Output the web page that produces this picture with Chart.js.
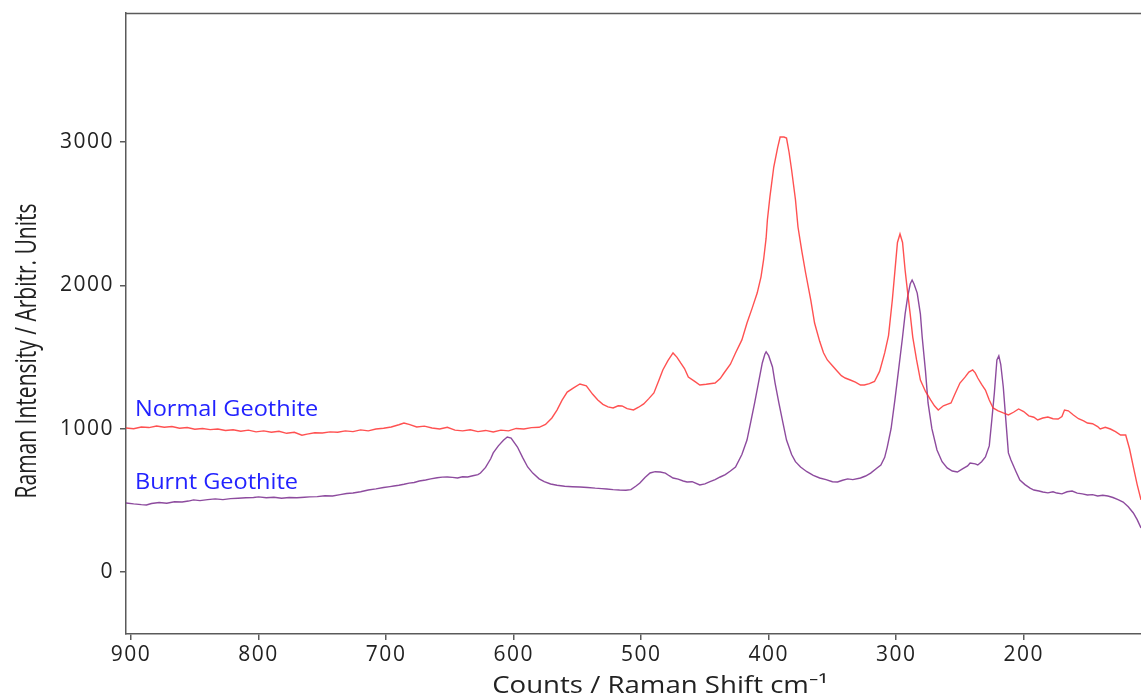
<!DOCTYPE html>
<html>
<head>
<meta charset="utf-8">
<title>Raman spectra – Geothite</title>
<script src="https://cdn.jsdelivr.net/npm/chart.js@4/dist/chart.umd.min.js"></script>
<style>
  html, body { margin: 0; padding: 0; background: #fff; }
  #wrap { width: 1141px; height: 697px; }
</style>
</head>
<body>
<div id="wrap"><canvas id="c" width="1141" height="697"></canvas></div>
<script>
// Raman shift (cm-1) and intensity for the untreated sample
const normalShift = [904,898,892,886,880,874,868,862,856,850,844,838,832,826,820,814,808,802,796,790,784,778,772,766,762,756,750,744,738,732,726,720,714,708,702,696,690,686,682,676,670,664,658,652,646,640,634,628,622,616,610,604,598,592,586,580,575,570,566,562,558,553,548,543,538,534,530,526,522,518,515,511,506,502,498,494,490,486,483,479,475,472,469,466,463,458,454,449,442,438,435,430,426,421,417,413,409,406,404,402,401,399,396,393,391,388,386,384,382,379,377,374,371,367,364,360,357,354,350,346,343,340,336,332,328,325,321,317,313,309,306,303,301,299,297,295,293,291,289,287,284,281,277,273,270,267,263,260,257,254,250,246,243,240,238,236,233,230,227,224,220,216,212,208,204,200,196,192,189,185,181,177,173,170,168,165,161,157,153,150,146,142,140,136,132,128,124,120,117,114,111,108];
const normalCounts = [1005,1000,1012,1008,1019,1010,1015,1003,1008,996,1001,994,998,988,993,982,990,978,985,975,982,968,975,955,962,972,970,978,975,985,980,992,985,998,1003,1012,1028,1040,1030,1012,1018,1005,998,1010,990,985,993,980,988,977,990,985,1002,998,1008,1010,1030,1075,1130,1200,1256,1285,1312,1300,1240,1200,1170,1152,1145,1160,1159,1140,1131,1150,1173,1210,1250,1340,1410,1475,1529,1500,1459,1420,1361,1330,1305,1310,1319,1350,1389,1450,1529,1620,1738,1840,1947,2060,2178,2330,2457,2620,2827,2960,3036,3036,3029,2930,2806,2600,2408,2240,2087,1900,1738,1610,1530,1480,1440,1400,1370,1354,1340,1325,1305,1305,1315,1330,1400,1529,1650,1900,2100,2300,2359,2300,2108,1950,1800,1640,1480,1340,1260,1201,1160,1131,1160,1170,1180,1240,1319,1360,1395,1410,1390,1354,1310,1270,1200,1145,1125,1110,1096,1115,1138,1120,1090,1080,1061,1075,1082,1070,1068,1085,1131,1125,1096,1070,1055,1040,1035,1015,998,1010,998,980,956,956,860,733,610,503];

// Raman shift (cm-1) and intensity for the heated sample
const burntShift = [904,898,892,888,884,878,872,866,860,855,851,846,840,834,828,822,816,810,804,800,794,788,782,776,770,764,760,754,748,742,736,731,726,720,714,708,702,697,694,690,686,682,678,674,669,665,660,656,652,648,644,640,636,632,628,626,622,618,616,612,608,605,602,597,593,589,585,580,576,571,566,560,554,548,542,536,531,527,522,517,512,508,504,501,497,493,489,485,481,478,475,471,467,464,460,454,450,446,442,438,434,430,426,421,417,414,411,408,405,403,402,400,397,395,392,389,386,382,379,375,370,365,360,355,350,346,342,338,334,328,324,320,315,312,309,307,304,301,298,295,293,291,289,287.5,286,283.5,281,279.6,277,275,272,268,264,260,256,252,248,244,242,238,236,233,230,227,225,223,221,219.5,218,216,214,212,210,206,203,199,195,192,188,185,181,177,174,170,166,162,158,154,150,146,142,138,134,130,126,122,118,114,111,108];
const burntCounts = [482,475,470,468,478,485,480,490,488,495,503,498,505,510,505,512,515,518,520,524,518,522,515,520,518,522,524,526,532,530,540,548,551,560,572,580,590,596,600,605,612,620,625,635,642,650,658,662,663,660,656,665,663,672,680,691,730,790,831,880,920,942,935,872,800,733,690,650,630,614,605,598,595,593,590,585,582,579,575,572,570,575,600,621,660,691,700,698,690,672,656,648,635,628,630,607,615,630,645,663,680,705,733,820,921,1050,1180,1320,1459,1520,1536,1510,1431,1320,1180,1050,921,820,770,733,700,675,656,645,630,628,640,650,645,656,670,690,726,747,800,872,1000,1201,1420,1640,1800,1920,2010,2038,2010,1947,1800,1640,1400,1180,1000,852,770,726,705,698,720,740,761,755,747,770,803,880,1061,1250,1480,1508,1450,1291,1060,831,782,700,642,610,585,572,565,558,552,560,551,545,560,565,550,545,537,540,530,535,530,520,505,488,455,412,365,307];

// Axis ticks and ranges
const shiftTicks = [900, 800, 700, 600, 500, 400, 300, 200];
const countTicks = [0, 1000, 2000, 3000];
const shiftRange = [108, 904];
const countRange = [-433, 3902];

// Series names written next to the traces, anchored in data units
const seriesNames = ['Normal Geothite', 'Burnt Geothite'];
const seriesNameAnchors = [[897, 1131], [897, 621]];

const pairs = (xs, ys) => xs.map((x, i) => ({ x: x, y: ys[i] }));

const FONT = '"Open Sans", "Noto Sans", sans-serif';
const AXIS_COLOR = '#5a5a5a';
const TEXT_COLOR = '#222222';

// draws a string horizontally widened by factor sx around (x, y)
function wideText(ctx, text, x, y, sx, align) {
  ctx.save();
  ctx.translate(x, y);
  ctx.scale(sx, 1);
  ctx.textAlign = align;
  ctx.fillText(text, 0, 0);
  ctx.restore();
}

const decorations = {
  id: 'decorations',
  beforeDraw(chart) {
    // wider tick label spacing
    chart.ctx.letterSpacing = '1.5px';
  },
  afterDraw(chart) {
    const { ctx, chartArea, scales } = chart;
    ctx.save();
    ctx.letterSpacing = '0px';
    // top frame line
    ctx.strokeStyle = AXIS_COLOR;
    ctx.lineWidth = 1.5;
    ctx.beginPath();
    ctx.moveTo(chartArea.left, chartArea.top + 0.5);
    ctx.lineTo(chartArea.right, chartArea.top + 0.5);
    ctx.stroke();

    // series names
    ctx.fillStyle = '#2222ff';
    ctx.font = '22px ' + FONT;
    ctx.textBaseline = 'middle';
    seriesNames.forEach((name, i) => {
      const [sx, sy] = seriesNameAnchors[i];
      wideText(ctx, name, scales.x.getPixelForValue(sx), scales.y.getPixelForValue(sy), 1.07, 'left');
    });

    // x axis title
    ctx.fillStyle = TEXT_COLOR;
    ctx.font = '23px ' + FONT;
    ctx.textBaseline = 'alphabetic';
    wideText(ctx, 'Counts / Raman Shift cm\u207B\u00B9', 660, 693, 1.2, 'center');

    // y axis title
    ctx.font = '21px ' + FONT;
    ctx.translate(36, 351);
    ctx.scale(1.35, 1);
    ctx.rotate(-Math.PI / 2);
    ctx.textAlign = 'center';
    ctx.textBaseline = 'alphabetic';
    ctx.fillText('Raman Intensity / Arbitr. Units', 0, 0);
    ctx.restore();
  }
};

new Chart(document.getElementById('c'), {
  type: 'line',
  data: {
    datasets: [
      {
        label: seriesNames[0],
        data: pairs(normalShift, normalCounts),
        borderColor: 'rgba(255, 50, 50, 0.85)',
        borderWidth: 1.4,
        pointRadius: 0,
        tension: 0,
        fill: false
      },
      {
        label: seriesNames[1],
        data: pairs(burntShift, burntCounts),
        borderColor: 'rgba(125, 50, 145, 0.88)',
        borderWidth: 1.4,
        pointRadius: 0,
        tension: 0,
        fill: false
      }
    ]
  },
  options: {
    responsive: false,
    devicePixelRatio: 1,
    animation: false,
    layout: { padding: { top: 13, right: 0, left: 0, bottom: 0 } },
    plugins: {
      legend: { display: false },
      tooltip: { enabled: false }
    },
    scales: {
      x: {
        type: 'linear',
        reverse: true,
        min: shiftRange[0],
        max: shiftRange[1],
        afterBuildTicks(scale) { scale.ticks = shiftTicks.map(v => ({ value: v })); },
        afterFit(scale) { scale.height = 63; scale.paddingLeft = 0; scale.paddingRight = 0; },
        grid: { display: true, drawOnChartArea: false, drawTicks: true, tickLength: 6, color: AXIS_COLOR, lineWidth: 1.5 },
        border: { display: true, color: AXIS_COLOR, width: 1.5 },
        ticks: { color: TEXT_COLOR, font: { family: FONT, size: 21 }, padding: 2, maxRotation: 0 }
      },
      y: {
        type: 'linear',
        min: countRange[0],
        max: countRange[1],
        afterBuildTicks(scale) { scale.ticks = countTicks.map(v => ({ value: v })); },
        afterFit(scale) { scale.width = 126; scale.paddingTop = 0; scale.paddingBottom = 0; },
        grid: { display: true, drawOnChartArea: false, drawTicks: true, tickLength: 6, color: AXIS_COLOR, lineWidth: 1.5 },
        border: { display: true, color: AXIS_COLOR, width: 1.5 },
        ticks: {
          color: TEXT_COLOR,
          font: { family: FONT, size: 21 },
          padding: 6,
          callback: (v) => String(v)
        }
      }
    }
  },
  plugins: [decorations]
});
</script>
</body>
</html>
